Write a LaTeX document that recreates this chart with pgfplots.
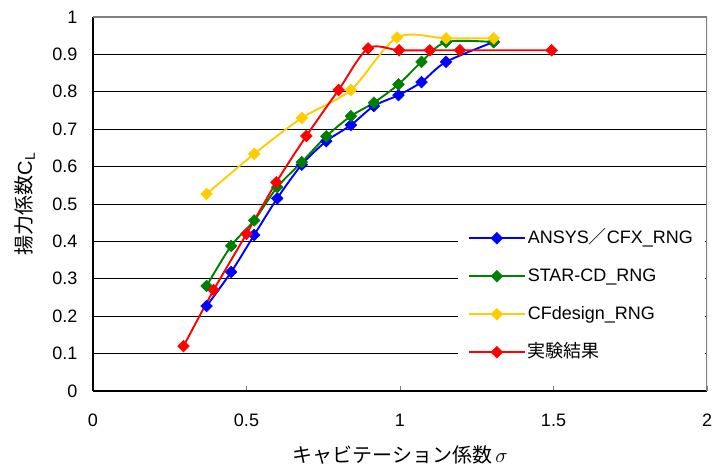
\documentclass[border=0pt]{standalone}
\usepackage{fontspec}
\setmainfont{Liberation Sans}
\newfontfamily\jp{Noto Sans CJK JP}
\usepackage{pgfplots}
\pgfplotsset{compat=1.18}
\definecolor{cfxblue}{RGB}{0,0,255}
\definecolor{stargreen}{RGB}{0,128,0}
\definecolor{cfdyellow}{RGB}{255,204,0}
\definecolor{expred}{RGB}{255,0,0}
\definecolor{framegray}{RGB}{128,128,128}

\pgfplotsset{
  series/.style={color=#1, line width=1.9bp, smooth, tension=0.5,
    mark=square*, mark size=4.1bp,
    mark options={rotate=45, solid, fill=#1, draw=#1, line width=0.6bp}},
}

\begin{document}
\begin{tikzpicture}
\path[use as bounding box] (0,0) rectangle (713bp,472bp);
\begin{axis}[
  at={(93bp,81bp)}, anchor=south west,
  scale only axis, width=614bp, height=374bp,
  xmin=0, xmax=2, ymin=0, ymax=1,
  axis lines*=left,
  axis line style={black, line width=1.2bp},
  xtick={0,0.5,1,1.5,2}, xticklabels={0,0.5,1,1.5,2},
  ytick={0,0.1,0.2,0.3,0.4,0.5,0.6,0.7,0.8,0.9,1},
  yticklabels={0,0.1,0.2,0.3,0.4,0.5,0.6,0.7,0.8,0.9,1},
  tick align=inside, major tick length=5bp,
  x tick style={framegray, line width=1bp},
  y tick style={draw=none},
  ymajorgrids, grid style={black, line width=0.9bp},
  /pgf/number format/assume math mode=true,
  tick label style={font=\fontsize{18bp}{22bp}\selectfont},
  xticklabel style={anchor=center, yshift=-29bp},
  yticklabel style={anchor=east, xshift=-12bp},
  xlabel={{\jp キャビテーション係数}\,$\sigma$},
  xlabel style={font=\fontsize{20bp}{24bp}\selectfont, at={(rel axis cs:0.5,0)}, anchor=center, yshift=-64bp},
  ylabel={{\jp 揚力係数}C\textsubscript{L}},
  ylabel style={font=\fontsize{20bp}{24bp}\selectfont, at={(rel axis cs:0,0.5)}, anchor=center, yshift=68bp},
  legend cell align=left,
  legend style={at={(rel axis cs:0.594,0.465)}, anchor=north west,
    draw=none, fill=white, inner xsep=10bp, inner ysep=10bp, row sep=16bp,
    font=\fontsize{18bp}{22bp}\selectfont,
    nodes={inner sep=2bp, text height=14bp, text depth=4bp}},
  legend image code/.code={\draw[mark repeat=2, mark phase=2, #1] plot coordinates {(0bp,0bp) (28bp,0bp) (56bp,0bp)};},
]
\addplot[series=cfxblue] coordinates {
  (0.37,0.227) (0.45,0.318) (0.525,0.417) (0.60,0.515) (0.68,0.605) (0.76,0.668)
  (0.84,0.711) (0.915,0.762) (0.995,0.791) (1.07,0.826) (1.15,0.880) (1.305,0.933)};
\addlegendentry{ANSYS{\jp ／}CFX\_RNG}
\addplot[series=stargreen] coordinates {
  (0.37,0.281) (0.45,0.388) (0.525,0.456) (0.60,0.545) (0.68,0.612) (0.76,0.681)
  (0.84,0.735) (0.915,0.771) (0.995,0.820) (1.07,0.880) (1.15,0.933) (1.305,0.933)};
\addlegendentry{STAR-CD\_RNG}
\addplot[series=cfdyellow] coordinates {
  (0.37,0.527) (0.525,0.634) (0.68,0.730) (0.84,0.805) (0.99,0.945) (1.15,0.943) (1.305,0.943)};
\addlegendentry{CFdesign\_RNG}
\addplot[series=expred] coordinates {
  (0.295,0.120) (0.393,0.270) (0.50,0.420) (0.597,0.558) (0.695,0.682) (0.80,0.805)
  (0.896,0.916) (0.997,0.911) (1.097,0.911) (1.195,0.911) (1.494,0.911)};
\addlegendentry{{\jp 実験結果}}
\draw[framegray, line width=1.2bp] (rel axis cs:0,1) -- (rel axis cs:1,1) -- (rel axis cs:1,0);
\end{axis}
\end{tikzpicture}
\end{document}
